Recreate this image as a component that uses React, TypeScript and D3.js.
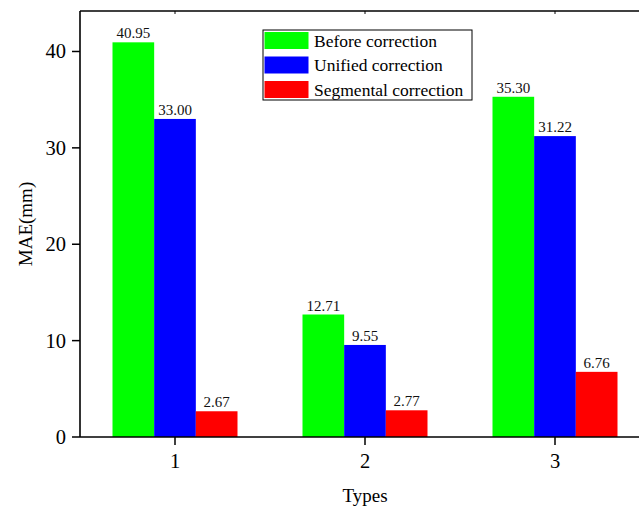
import React from 'react';
import * as d3 from 'd3';

const categories = [1, 2, 3];
const seriesNames = ['Before correction', 'Unified correction', 'Segmental correction'];
const seriesColors = ['#00ff00', '#0000ff', '#ff0000'];
const beforeValues = [40.95, 12.71, 35.3];
const unifiedValues = [33.0, 9.55, 31.22];
const segmentalValues = [2.67, 2.77, 6.76];
const yTicks = [0, 10, 20, 30, 40];

const series = [beforeValues, unifiedValues, segmentalValues];

const width = 639;
const height = 508;
const left = 80;
const top = 11;
const bottom = 437;
const font = '"Liberation Serif", "Times New Roman", serif';

const App = () => {
    const x = d3.scaleLinear().domain([0.5, 3.5]).range([left, 650]);
    const y = d3.scaleLinear().domain([0, 44.2]).range([bottom, top]);
    const sub = d3.scaleBand().domain(seriesNames).range([-62.5, 62.5]);

    return (
        <svg width={width} height={height}
            style={{position: 'absolute', left: 0, top: 0, background: '#fff'}}
            fontFamily={font}>
            {series.map((vals, si) => (
                <g key={si}>
                    {vals.map((v, ci) => {
                        const bx = x(categories[ci]) + sub(seriesNames[si]);
                        return (
                            <g key={ci}>
                                <rect x={bx} y={y(v)} width={sub.bandwidth()}
                                    height={bottom - y(v)} fill={seriesColors[si]} />
                                <text x={bx + sub.bandwidth() / 2} y={y(v) - 4}
                                    textAnchor="middle" fontSize={15} fill="#111">
                                    {v.toFixed(2)}
                                </text>
                            </g>
                        );
                    })}
                </g>
            ))}

            {/* frame */}
            <line x1={left} x2={left} y1={top} y2={bottom} stroke="#000" strokeWidth={1.6} />
            <line x1={left} x2={width} y1={bottom} y2={bottom} stroke="#000" strokeWidth={1.6} />
            <line x1={left} x2={width} y1={top} y2={top} stroke="#000" strokeWidth={1.4} />

            {yTicks.map(t => (
                <g key={t}>
                    <line x1={left - 8} x2={left} y1={y(t)} y2={y(t)} stroke="#000" strokeWidth={1.5} />
                    <text x={left - 14} y={y(t) + 7} textAnchor="end" fontSize={20.5}>{t}</text>
                </g>
            ))}
            {categories.map(c => (
                <g key={c}>
                    <line x1={x(c)} x2={x(c)} y1={bottom} y2={bottom + 8} stroke="#000" strokeWidth={1.5} />
                    <line x1={x(c)} x2={x(c)} y1={top} y2={top + 3} stroke="#000" strokeWidth={1} />
                    <text x={x(c)} y={bottom + 31} textAnchor="middle" fontSize={20.5}>{c}</text>
                </g>
            ))}

            <text transform={`translate(32,${(top + bottom) / 2}) rotate(-90)`}
                textAnchor="middle" fontSize={19}>MAE(mm)</text>
            <text x={x(2)} y={502} textAnchor="middle" fontSize={19}>Types</text>

            {/* legend */}
            <g transform="translate(263,30)">
                <rect x={0} y={0} width={209} height={70} fill="#fff" stroke="#000" strokeWidth={1} />
                {seriesNames.map((name, i) => (
                    <g key={name} transform={`translate(0,${i * 24.5})`}>
                        <rect x={1.5} y={2} width={44} height={17} fill={seriesColors[i]} />
                        <text x={51} y={16.5} fontSize={17.5}>{name}</text>
                    </g>
                ))}
            </g>
        </svg>
    );
};

export default App;
